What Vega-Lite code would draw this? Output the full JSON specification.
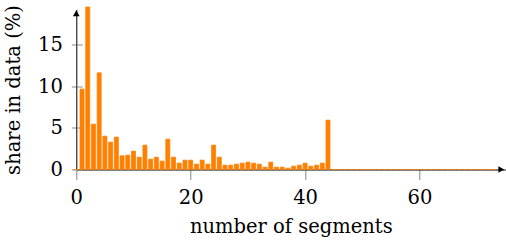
{
  "$schema": "https://vega.github.io/schema/vega-lite/v6.json",
  "width": 429,
  "height": 160,
  "autosize": "none",
  "padding": {"left": 76.3, "top": 9.5, "right": 0.7, "bottom": 70.5},
  "background": "white",
  "config": {"view": {"stroke": null}, "font": "DejaVu Serif"},
  "datasets": {
    "bars": [
      {"segments": 0, "share": 0},
      {"segments": 1, "share": 9.64},
      {"segments": 2, "share": 19.5},
      {"segments": 3, "share": 5.44},
      {"segments": 4, "share": 11.6},
      {"segments": 5, "share": 4.0},
      {"segments": 6, "share": 3.28},
      {"segments": 7, "share": 3.88},
      {"segments": 8, "share": 1.64},
      {"segments": 9, "share": 1.72},
      {"segments": 10, "share": 2.2},
      {"segments": 11, "share": 1.48},
      {"segments": 12, "share": 2.92},
      {"segments": 13, "share": 1.24},
      {"segments": 14, "share": 1.48},
      {"segments": 15, "share": 1.0},
      {"segments": 16, "share": 3.64},
      {"segments": 17, "share": 1.48},
      {"segments": 18, "share": 0.76},
      {"segments": 19, "share": 1.12},
      {"segments": 20, "share": 1.12},
      {"segments": 21, "share": 0.64},
      {"segments": 22, "share": 1.12},
      {"segments": 23, "share": 0.64},
      {"segments": 24, "share": 2.92},
      {"segments": 25, "share": 1.48},
      {"segments": 26, "share": 0.52},
      {"segments": 27, "share": 0.52},
      {"segments": 28, "share": 0.64},
      {"segments": 29, "share": 0.76},
      {"segments": 30, "share": 0.88},
      {"segments": 31, "share": 0.76},
      {"segments": 32, "share": 0.64},
      {"segments": 33, "share": 0.28},
      {"segments": 34, "share": 0.88},
      {"segments": 35, "share": 0.28},
      {"segments": 36, "share": 0.28},
      {"segments": 37, "share": 0.16},
      {"segments": 38, "share": 0.4},
      {"segments": 39, "share": 0.52},
      {"segments": 40, "share": 0.76},
      {"segments": 41, "share": 0.4},
      {"segments": 42, "share": 0.52},
      {"segments": 43, "share": 0.76},
      {"segments": 44, "share": 5.92},
      {"segments": 45, "share": 0}, {"segments": 46, "share": 0}, {"segments": 47, "share": 0},
      {"segments": 48, "share": 0}, {"segments": 49, "share": 0}, {"segments": 50, "share": 0},
      {"segments": 51, "share": 0}, {"segments": 52, "share": 0}, {"segments": 53, "share": 0},
      {"segments": 54, "share": 0}, {"segments": 55, "share": 0}, {"segments": 56, "share": 0},
      {"segments": 57, "share": 0}, {"segments": 58, "share": 0}, {"segments": 59, "share": 0},
      {"segments": 60, "share": 0}, {"segments": 61, "share": 0}, {"segments": 62, "share": 0},
      {"segments": 63, "share": 0}, {"segments": 64, "share": 0}, {"segments": 65, "share": 0},
      {"segments": 66, "share": 0}, {"segments": 67, "share": 0}, {"segments": 68, "share": 0},
      {"segments": 69, "share": 0}, {"segments": 70, "share": 0}, {"segments": 71, "share": 0},
      {"segments": 72, "share": 0}, {"segments": 73, "share": 0}
    ]
  },
  "resolve": {"axis": {"y": "independent"}},
  "layer": [
    {
      "data": {"name": "bars"},
      "mark": {"type": "bar", "orient": "vertical", "width": 4, "color": "#ff8000", "stroke": "#ff8000", "strokeWidth": 0.8},
      "encoding": {
        "x": {
          "field": "segments", "type": "quantitative",
          "scale": {"domain": [0, 75], "nice": false, "zero": false, "padding": 0},
          "axis": {
            "title": "number of segments", "values": [0, 20, 40, 60], "labelFlush": false,
            "domainColor": "black", "domainWidth": 1,
            "tickColor": "#888888", "tickSize": 10, "tickWidth": 1,
            "labelFont": "DejaVu Serif", "labelFontSize": 19.5, "labelColor": "black", "labelPadding": 9,
            "titleFont": "DejaVu Serif", "titleFontSize": 19.5, "titleFontWeight": "normal", "titleColor": "black", "titlePadding": 10,
            "grid": false
          }
        },
        "y": {
          "field": "share", "type": "quantitative",
          "scale": {"domain": [0, 19.2], "nice": false},
          "axis": {
            "title": "share in data (%)", "values": [0, 5, 10, 15], "orient": "left", "labelFlush": false,
            "domainColor": "black", "domainWidth": 1,
            "tickColor": "#888888", "tickSize": 5, "tickWidth": 1,
            "labelFont": "DejaVu Serif", "labelFontSize": 19.5, "labelColor": "black", "labelPadding": 9,
            "titleFont": "DejaVu Serif", "titleFontSize": 19.5, "titleFontWeight": "normal", "titleColor": "black", "titlePadding": 14,
            "grid": false
          }
        }
      }
    },
    {
      "data": {"values": [{}]},
      "mark": {"type": "point", "shape": "triangle-right", "filled": true, "color": "black", "opacity": 1, "size": 45},
      "encoding": {
        "x": {"datum": 74.3, "type": "quantitative"},
        "y": {"datum": 0, "type": "quantitative", "axis": null}
      }
    },
    {
      "data": {"values": [{}]},
      "mark": {"type": "point", "shape": "triangle-up", "filled": true, "color": "black", "opacity": 1, "size": 45},
      "encoding": {
        "x": {"datum": 0, "type": "quantitative"},
        "y": {
          "datum": 18.75, "type": "quantitative",
          "axis": {
            "orient": "left", "title": null, "labels": false, "domain": false,
            "values": [0, 5, 10, 15], "tickColor": "#888888", "tickSize": -6, "tickWidth": 1, "grid": false
          }
        }
      }
    }
  ]
}
